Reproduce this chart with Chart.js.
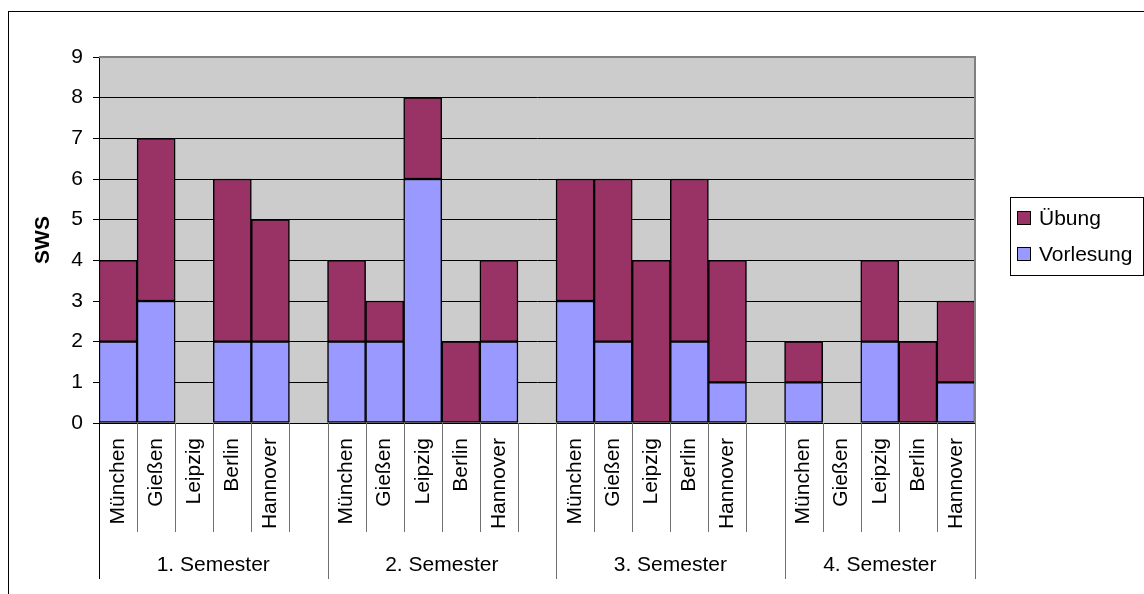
<!DOCTYPE html>
<html><head><meta charset="utf-8">
<script src="https://cdn.jsdelivr.net/npm/chart.js@4/dist/chart.umd.min.js"></script>
<style>
html,body{margin:0;padding:0;background:#fff;overflow:hidden}
#wrap{position:relative;width:1144px;height:594px}
#frame{position:absolute;left:8px;top:11px;width:1200px;height:700px;border:1px solid #000;box-sizing:border-box}
canvas{position:absolute;left:0;top:0}
</style></head><body>
<div id="wrap"><div id="frame"></div><canvas id="c" width="1144" height="594"></canvas></div>
<script>
// ---- data ----
const semesters = ['1. Semester', '2. Semester', '3. Semester', '4. Semester'];
const categories = [
  'München','Gießen','Leipzig','Berlin','Hannover','',
  'München','Gießen','Leipzig','Berlin','Hannover','',
  'München','Gießen','Leipzig','Berlin','Hannover','',
  'München','Gießen','Leipzig','Berlin','Hannover'
];
const vorlesung = [2,3,0,2,2,null, 2,2,6,0,2,null, 3,2,0,2,1,null, 1,0,2,0,1];
const uebung    = [2,4,0,4,3,null, 2,1,2,2,2,null, 3,4,4,4,3,null, 1,0,2,2,2];
const yTickValues = [0,1,2,3,4,5,6,7,8,9];
const seriesNames = ['Vorlesung', 'Übung'];
const seriesColors = ['#9999FF', '#993366'];
const yTitle = 'SWS';

const FONT = "'Liberation Sans', Arial, sans-serif";

// group spans derived from gap categories
function groupSpans() {
  const spans = [];
  let start = 0;
  for (let i = 0; i <= categories.length; i++) {
    if (i === categories.length || categories[i] === '') {
      const end = i === categories.length ? i : i + 1;
      spans.push([start, end]);
      start = i + 1;
    }
  }
  return spans;
}

const excelPlugin = {
  id: 'excel',
  beforeDraw(chart) {
    const {ctx, chartArea: a} = chart;
    ctx.save();
    ctx.fillStyle = '#CCCCCC';
    ctx.fillRect(a.left, a.top, a.right - a.left, a.bottom - a.top);
    ctx.restore();
  },
  afterDraw(chart) {
    const {ctx, chartArea: a} = chart;
    const xs = chart.scales.x;
    ctx.save();
    // plot border top/right
    ctx.strokeStyle = '#808080';
    ctx.lineWidth = 2;
    ctx.beginPath();
    ctx.moveTo(a.left, a.top);
    ctx.lineTo(a.right, a.top);
    ctx.lineTo(a.right, a.bottom);
    ctx.stroke();

    // category separators
    const spans = groupSpans();
    const groupEdges = new Set();
    spans.forEach(s => { groupEdges.add(s[0]); groupEdges.add(s[1]); });
    ctx.lineWidth = 1;
    for (let k = 0; k <= categories.length; k++) {
      const x = Math.round(xs.getPixelForValue(k - 0.5)) + 0.5;
      const isGroup = groupEdges.has(k);
      ctx.strokeStyle = k === 0 ? '#000' : '#707070';
      ctx.beginPath();
      ctx.moveTo(x, a.bottom);
      ctx.lineTo(x, isGroup ? a.bottom + 156 : a.bottom + 109);
      ctx.stroke();
    }
    // group labels
    ctx.fillStyle = '#000';
    ctx.font = '21px ' + FONT;
    ctx.textAlign = 'center';
    ctx.textBaseline = 'alphabetic';
    spans.forEach((s, i) => {
      const x = (xs.getPixelForValue(s[0] - 0.5) + xs.getPixelForValue(s[1] - 0.5)) / 2;
      ctx.fillText(semesters[i], x, a.bottom + 148);
    });

    // legend
    const lx = 1010, ly = 197, lw = 133, lh = 78;
    ctx.strokeStyle = '#000';
    ctx.lineWidth = 1;
    ctx.strokeRect(lx + 0.5, ly + 0.5, lw, lh);
    const ds = chart.data.datasets.slice().reverse();
    ctx.textAlign = 'left';
    ds.forEach((d, i) => {
      const cy = 218 + i * 36;
      ctx.fillStyle = d.backgroundColor;
      ctx.fillRect(lx + 7, cy - 7, 14, 14);
      ctx.strokeStyle = '#000';
      ctx.strokeRect(lx + 7.5, cy - 6.5, 13, 13);
      ctx.fillStyle = '#000';
      ctx.fillText(d.label, lx + 29, cy + 7);
    });
    ctx.restore();
  }
};

new Chart(document.getElementById('c'), {
  type: 'bar',
  data: {
    labels: categories,
    datasets: [
      {label: seriesNames[0], data: vorlesung, backgroundColor: seriesColors[0], borderColor: '#000', borderWidth: 1.5, borderSkipped: false},
      {label: seriesNames[1], data: uebung, backgroundColor: seriesColors[1], borderColor: '#000', borderWidth: 1.5, borderSkipped: false}
    ]
  },
  options: {
    responsive: false,
    animation: false,
    devicePixelRatio: 1,
    layout: {padding: {left: 0, top: 57, right: 169, bottom: 0}},
    datasets: {bar: {barPercentage: 1, categoryPercentage: 1}},
    plugins: {legend: {display: false}, tooltip: {enabled: false}},
    scales: {
      x: {
        stacked: true,
        grid: {display: false, drawTicks: false},
        border: {display: true, color: '#000', width: 1},
        ticks: {
          autoSkip: false, minRotation: 90, maxRotation: 90, padding: 15,
          color: '#000', font: {family: FONT, size: 21}
        },
        afterFit(s) { s.height = 171; }
      },
      y: {
        stacked: true,
        min: 0, max: 9,
        afterBuildTicks(s) { s.ticks = yTickValues.map(v => ({value: v})); },
        grid: {color: '#000', lineWidth: 1, tickLength: 6, tickColor: '#000'},
        border: {display: true, color: '#000', width: 1},
        ticks: {color: '#000', padding: 10, font: {family: FONT, size: 21}},
        title: {display: true, text: yTitle, color: '#000', font: {family: FONT, size: 21, weight: 'bold'}, padding: {top: 31, bottom: 0}},
        afterFit(s) { s.width = 99; }
      }
    }
  },
  plugins: [excelPlugin]
});
</script>
</body></html>
